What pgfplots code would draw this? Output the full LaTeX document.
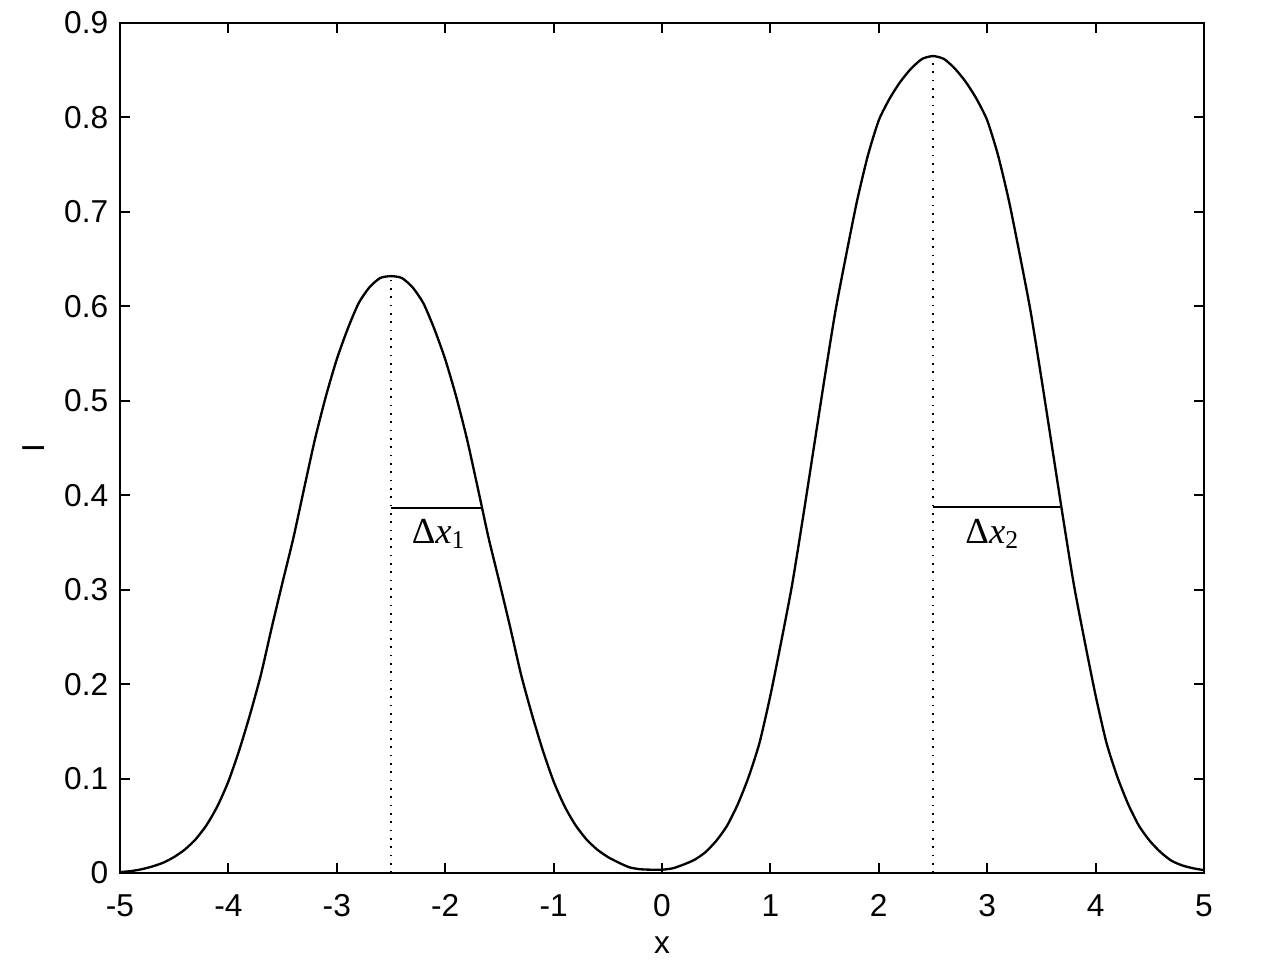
\documentclass[border=0pt]{standalone}
\usepackage{fontspec}
\setmainfont{Liberation Sans}
\newfontfamily\seriffont{Liberation Serif}
\usepackage{pgfplots}
\usepackage{pgfplotstable}
\pgfplotsset{compat=1.18}

\pgfplotstableread{
x y
-5.0 0.001
-4.9 0.002
-4.8 0.004
-4.7 0.007
-4.6 0.011
-4.5 0.017
-4.4 0.025
-4.3 0.036
-4.2 0.051
-4.1 0.071
-4.0 0.097
-3.9 0.130
-3.8 0.168
-3.7 0.210
-3.6 0.260
-3.5 0.308
-3.4 0.355
-3.3 0.408
-3.2 0.460
-3.1 0.505
-3.0 0.544
-2.9 0.576
-2.8 0.603
-2.7 0.620
-2.6 0.630
-2.5 0.632
-2.4 0.630
-2.3 0.620
-2.2 0.603
-2.1 0.576
-2.0 0.544
-1.9 0.505
-1.8 0.460
-1.7 0.408
-1.6 0.355
-1.5 0.308
-1.4 0.260
-1.3 0.210
-1.2 0.168
-1.1 0.130
-1.0 0.097
-0.9 0.071
-0.8 0.051
-0.7 0.036
-0.6 0.025
-0.5 0.017
-0.4 0.011
-0.3 0.006
-0.2 0.004
-0.1 0.0035
0.0 0.0035
0.1 0.005
0.2 0.009
0.3 0.014
0.4 0.022
0.5 0.034
0.6 0.050
0.7 0.073
0.8 0.102
0.9 0.138
1.0 0.188
1.1 0.245
1.2 0.305
1.3 0.376
1.4 0.450
1.5 0.524
1.6 0.595
1.7 0.655
1.8 0.712
1.9 0.760
2.0 0.797
2.1 0.820
2.2 0.838
2.3 0.852
2.4 0.862
2.5 0.865
2.6 0.862
2.7 0.852
2.8 0.838
2.9 0.820
3.0 0.797
3.1 0.760
3.2 0.712
3.3 0.655
3.4 0.595
3.5 0.524
3.6 0.450
3.7 0.376
3.8 0.305
3.9 0.245
4.0 0.188
4.1 0.138
4.2 0.102
4.3 0.073
4.4 0.050
4.5 0.034
4.6 0.022
4.7 0.013
4.8 0.008
4.9 0.005
5.0 0.003
}\curvedata

\begin{document}
\begin{tikzpicture}
\path[use as bounding box] (-36pt,-30.3pt) rectangle (346.8pt,261.9pt);
\begin{axis}[
  at={(0,0)}, anchor=south west,
  width=325.2pt, height=255pt, scale only axis,
  xmin=-5, xmax=5, ymin=0, ymax=0.9,
  xtick={-5,-4,-3,-2,-1,0,1,2,3,4,5},
  ytick={0,0.1,0.2,0.3,0.4,0.5,0.6,0.7,0.8,0.9},
  yticklabel style={/pgf/number format/fixed, /pgf/number format/precision=1},
  /pgf/number format/assume math mode=true,
  tick align=inside,
  major tick length=3pt,
  tick style={black, line width=0.6pt},
  axis line style={line width=0.8pt},
  ticklabel style={font=\fontsize{9.5}{11}\selectfont},
  xticklabel style={yshift=-3pt},
  label style={font=\fontsize{9.5}{11}\selectfont},
  xlabel={x},
  ylabel={I},
  xlabel style={at={(axis description cs:0.5,-0.085)}, anchor=center},
  ylabel style={at={(axis description cs:-0.080,0.5)}, anchor=center, rotate=0},
  clip=false,
]
\addplot[black, line width=0.7pt, smooth, tension=0.4] table[x=x, y=y] {\curvedata};
\addplot[black, dotted, line width=0.5pt] coordinates {(-2.5,0) (-2.5,0.632)};
\addplot[black, dotted, line width=0.5pt] coordinates {(2.5,0) (2.5,0.865)};
\addplot[black, line width=0.6pt] coordinates {(-2.5,0.386) (-1.663,0.386)};
\addplot[black, line width=0.6pt] coordinates {(2.5,0.388) (3.672,0.388)};
\node[anchor=base, font=\fontsize{11}{13}\selectfont\seriffont] at (axis cs:-2.057,0.349) {Δ\textit{x}\textsubscript{1}};
\node[anchor=base, font=\fontsize{11}{13}\selectfont\seriffont] at (axis cs:3.05,0.349) {Δ\textit{x}\textsubscript{2}};
\end{axis}
\end{tikzpicture}
\end{document}
